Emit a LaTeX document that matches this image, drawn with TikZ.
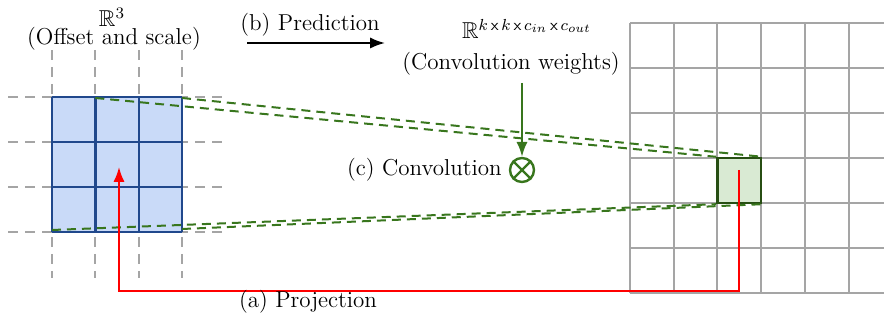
\documentclass[tikz,border=0pt]{standalone}
\usepackage{amsmath,amssymb}
\usetikzlibrary{arrows.meta,positioning}
\definecolor{GridBlue}{RGB}{201,218,248}
\definecolor{EdgeBlue}{RGB}{32,72,140}
\definecolor{KerGreen}{RGB}{56,118,29}
\definecolor{CellGreen}{RGB}{217,234,211}
\definecolor{CellEdge}{RGB}{39,78,19}
\definecolor{GridGray}{RGB}{165,165,165}

\begin{document}
\begin{tikzpicture}[x=0.5pt,y=-0.5pt,>=Latex,font=\fontsize{11.5}{14}\selectfont,
    guide/.style={GridGray,line width=1pt,dash pattern=on 5pt off 3.5pt},
    frust/.style={KerGreen,line width=1pt,dash pattern=on 4.5pt off 3pt},
    lbl/.style={anchor=base}]
  \useasboundingbox (0,0) rectangle (884,324);
  % output feature map
  \foreach \i in {0,...,5} \draw[GridGray,line width=1pt] (630+43.7*\i,23)--(630+43.7*\i,293);
  \foreach \j in {0,...,6} \draw[GridGray,line width=1pt] (630,23+45*\j)--(884,23+45*\j);
  \node[draw=CellEdge,fill=CellGreen,line width=1.2pt,minimum width=21.85pt,minimum height=22.5pt,inner sep=0pt] (cell) at (739.2,180.5) {};
  % input grid with offsets
  \foreach \y in {97,142,187,232} \draw[guide] (8,\y)--(228,\y);
  \foreach \x in {52,95.3,138.7,182} \draw[guide] (\x,50)--(\x,278);
  \fill[GridBlue] (52,97) rectangle (182,232);
  \foreach \x in {52,95.3,138.7,182} \draw[EdgeBlue,line width=1.2pt] (\x,97)--(\x,232);
  \foreach \y in {97,142,187,232} \draw[EdgeBlue,line width=1.2pt] (52,\y)--(182,\y);
  \coordinate (inTL) at (95.3,98);
  \coordinate (inTR) at (182,98);
  \coordinate (inBL) at (52,230);
  \coordinate (inBR) at (182,229);
  \draw[frust] (inTL) -- (cell.north west);
  \draw[frust] (inTR) -- (cell.north east);
  \draw[frust] (inBL) -- (cell.south west);
  \draw[frust] (inBR) -- (cell.south east);
  % (a) projection
  \coordinate (src) at (739,170);
  \coordinate (dst) at (119,167);
  \draw[red,line width=1pt,->] (src) -- (739,291) -| (dst);
  \node[lbl] (proj) at (308,308) {(a) Projection};
  % (b) prediction
  \node[lbl] (r3) at (112,27) {$\mathbb{R}^3$};
  \node[lbl] (offset) at (114,45) {(Offset and scale)};
  \node[lbl] (pred) at (310,31) {(b) Prediction};
  \coordinate (predA) at (247,43);
  \coordinate (predB) at (385,43);
  \draw[->,line width=1pt] (predA) -- (predB);
  \node[lbl] (rk) at (527,39) {$\mathbb{R}^{k\,\mathsf{x}\,k\,\mathsf{x}\,c_{in}\,\mathsf{x}\,c_{out}}$};
  \node[lbl] (weights) at (511,70) {(Convolution weights)};
  % (c) convolution
  \node[circle,draw=KerGreen,line width=1.2pt,minimum size=12pt,inner sep=0pt] (otimes) at (522,170) {};
  \draw[KerGreen,line width=1.2pt] (otimes.45)--(otimes.225) (otimes.135)--(otimes.315);
  \draw[->,KerGreen,line width=1pt] (otimes |- weights.south) -- (otimes);
  \node[left=0pt of otimes] (conv) {(c) Convolution};
\end{tikzpicture}
\end{document}
